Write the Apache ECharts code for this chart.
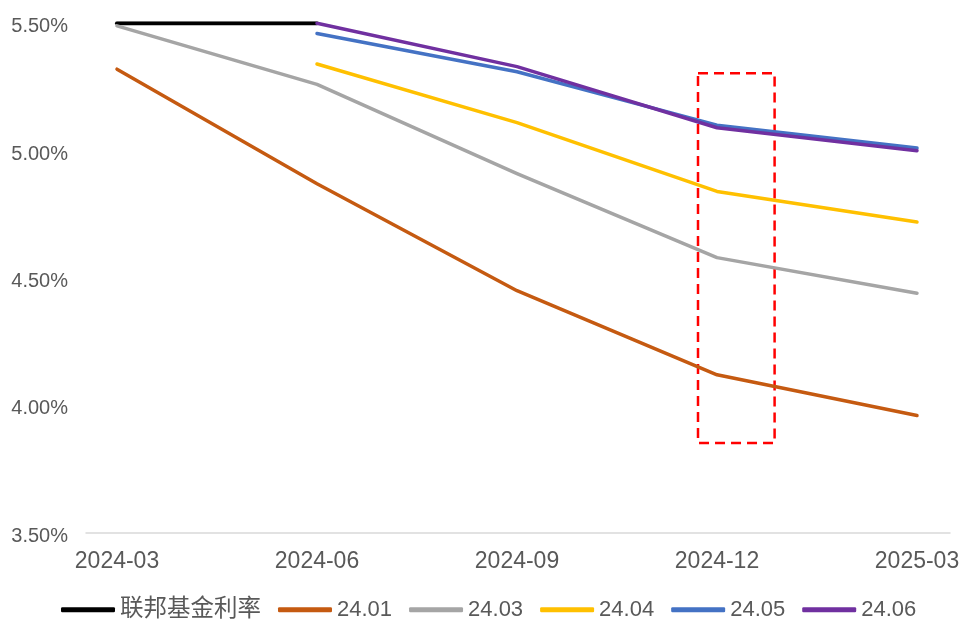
<!DOCTYPE html>
<html>
<head>
<meta charset="utf-8">
<script src="https://cdn.jsdelivr.net/npm/echarts@6/dist/echarts.min.js"></script>
<style>
html,body{margin:0;padding:0;background:#fff;}
#chart{width:964px;height:621px;}
</style>
</head>
<body>
<div id="chart"></div>
<script>
// ---- data ----
var categories = ['2024-03', '2024-06', '2024-09', '2024-12', '2025-03'];
var fedRate = [5.50, 5.50, null, null, null];
var s2401 = [5.32, 4.87, 4.45, 4.12, 3.96];
var s2403 = [5.49, 5.26, 4.91, 4.58, 4.44];
var s2404 = [null, 5.34, 5.11, 4.84, 4.72];
var s2405 = [null, 5.46, 5.31, 5.10, 5.01];
var s2406 = [null, 5.50, 5.33, 5.09, 5.00];
var seriesNames = ['联邦基金利率', '24.01', '24.03', '24.04', '24.05', '24.06'];
var yTicks = [3.50, 4.00, 4.50, 5.00, 5.50];
// highlight box around 2024-12 (category index range, value range)
var boxX = [2.905, 3.288];
var boxY = [5.304, 3.852];

var colors = ['#000000', '#C55A11', '#A5A5A5', '#FFC000', '#4472C4', '#7030A0'];
var allSeries = [fedRate, s2401, s2403, s2404, s2405, s2406];
var FONT = "'Liberation Sans', 'Noto Sans CJK SC', sans-serif";

function toPairs(arr) {
  var out = [];
  arr.forEach(function (v, i) { if (v !== null) out.push([i, v]); });
  return out;
}

var series = allSeries.map(function (arr, k) {
  return {
    name: seriesNames[k],
    type: 'line',
    data: toPairs(arr),
    symbol: 'none',
    lineStyle: { color: colors[k], width: k === 0 ? 4 : 3.5, cap: 'round', join: 'round' },
    itemStyle: { color: colors[k] },
    z: 2 + k
  };
});
series[1].markArea = {
  silent: true,
  itemStyle: {
    color: 'rgba(0,0,0,0)',
    borderColor: '#FF0000',
    borderWidth: 2.5,
    borderType: [10, 6]
  },
  label: { show: false },
  data: [[{ xAxis: boxX[0], yAxis: boxY[0] }, { xAxis: boxX[1], yAxis: boxY[1] }]]
};

var chart = echarts.init(document.getElementById('chart'), null, { renderer: 'canvas' });
chart.setOption({
  animation: false,
  backgroundColor: '#ffffff',
  textStyle: { fontFamily: FONT },
  grid: { left: 86, right: 14, top: 23.3, bottom: 88.3, containLabel: false },
  xAxis: {
    type: 'value',
    min: -0.155,
    max: 4.165,
    axisLine: { show: true, lineStyle: { color: '#D9D9D9', width: 1.5 } },
    axisTick: { show: false },
    splitLine: { show: false },
    axisLabel: {
      customValues: [0, 1, 2, 3, 4],
      formatter: function (v) { return categories[Math.round(v)]; },
      color: '#595959',
      fontSize: 23,
      fontFamily: FONT,
      margin: 17,
      showMinLabel: true,
      showMaxLabel: true
    }
  },
  yAxis: {
    type: 'value',
    min: yTicks[0],
    max: yTicks[yTicks.length - 1],
    interval: 0.5,
    axisLine: { show: false },
    axisTick: { show: false },
    splitLine: { show: false },
    axisLabel: {
      formatter: function (v) { return '{a|' + v.toFixed(2) + '%}'; },
      color: '#595959',
      fontSize: 20,
      fontFamily: FONT,
      margin: 18,
      rich: { a: { fontSize: 20, color: '#595959', fontFamily: FONT, padding: [7, 0, 0, 0] } }
    }
  },
  legend: {
    data: seriesNames,
    left: 61,
    top: 598,
    padding: 0,
    icon: 'roundRect',
    itemWidth: 54,
    itemHeight: 5,
    itemGap: 17,
    formatter: function (name) {
      return /^[0-9.]+$/.test(name) ? name : '{cn|' + name + '}';
    },
    textStyle: {
      color: '#595959', fontSize: 22, fontFamily: FONT,
      rich: { cn: { fontSize: 23.5, color: '#595959', fontFamily: FONT, padding: [0, 4, 0, 0] } }
    }
  },
  series: series
});
</script>
</body>
</html>
